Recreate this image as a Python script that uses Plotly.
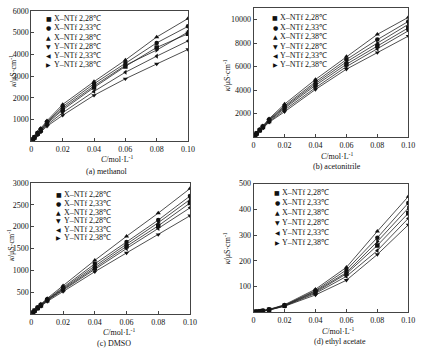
import plotly.graph_objects as go

conc = [0.001, 0.002, 0.004, 0.006, 0.01, 0.02, 0.04, 0.06, 0.08, 0.10]
series_names = ["X–NTf 2,28℃", "X–NTf 2,33℃", "X–NTf 2,38℃",
                "Y–NTf 2,28℃", "Y–NTf 2,33℃", "Y–NTf 2,38℃"]
symbols = ["square", "circle", "triangle-up", "triangle-down", "triangle-left", "triangle-right"]
glyphs = ["■", "●", "▲", "▼", "◀", "▶"]

# (a) methanol
methanol = {
    "X–NTf 2,28℃": [95, 180, 350, 500, 820, 1450, 2480, 3450, 4320, 4950],
    "X–NTf 2,33℃": [105, 200, 390, 560, 900, 1600, 2650, 3600, 4530, 5290],
    "X–NTf 2,38℃": [115, 220, 420, 600, 950, 1700, 2750, 3740, 4800, 5650],
    "Y–NTf 2,28℃": [80, 155, 300, 430, 700, 1200, 2120, 2880, 3560, 4230],
    "Y–NTf 2,33℃": [90, 170, 330, 470, 760, 1320, 2300, 3180, 3920, 4620],
    "Y–NTf 2,38℃": [100, 190, 370, 530, 860, 1520, 2550, 3500, 4200, 5030],
}
# (b) acetonitrile
acetonitrile = {
    "X–NTf 2,28℃": [155, 300, 580, 840, 1370, 2450, 4400, 6200, 7750, 9300],
    "X–NTf 2,33℃": [165, 320, 620, 900, 1480, 2650, 4700, 6600, 8300, 9850],
    "X–NTf 2,38℃": [175, 340, 650, 950, 1550, 2800, 4900, 6850, 8750, 10200],
    "Y–NTf 2,28℃": [140, 270, 520, 760, 1250, 2150, 4050, 5780, 7200, 8600],
    "Y–NTf 2,33℃": [148, 285, 550, 800, 1300, 2300, 4200, 6000, 7500, 9050],
    "Y–NTf 2,38℃": [160, 310, 600, 870, 1420, 2550, 4550, 6400, 8000, 9600],
}
# (c) DMSO
dmso = {
    "X–NTf 2,28℃": [39, 75, 140, 200, 320, 570, 1060, 1550, 2020, 2540],
    "X–NTf 2,33℃": [42, 80, 150, 215, 340, 610, 1150, 1650, 2150, 2700],
    "X–NTf 2,38℃": [45, 85, 160, 230, 360, 650, 1230, 1780, 2310, 2870],
    "Y–NTf 2,28℃": [35, 68, 125, 180, 290, 520, 970, 1400, 1820, 2250],
    "Y–NTf 2,33℃": [37, 72, 135, 190, 310, 550, 1020, 1500, 1960, 2430],
    "Y–NTf 2,38℃": [40, 77, 145, 205, 330, 590, 1100, 1600, 2090, 2620],
}
# (d) ethyl acetate
ethyl_acetate = {
    "X–NTf 2,28℃": [2, 3, 4, 6, 10, 26, 78, 150, 260, 385],
    "X–NTf 2,33℃": [2, 3, 5, 7, 11, 28, 85, 165, 290, 425],
    "X–NTf 2,38℃": [2, 3, 5, 7, 12, 30, 90, 175, 315, 450],
    "Y–NTf 2,28℃": [1, 2, 4, 5, 9, 24, 68, 125, 225, 340],
    "Y–NTf 2,33℃": [1, 2, 4, 6, 10, 25, 74, 140, 240, 365],
    "Y–NTf 2,38℃": [2, 3, 4, 6, 11, 27, 82, 155, 275, 405],
}

x_ticks = [0, 0.02, 0.04, 0.06, 0.08, 0.10]
x_ticktext = ["0", "0.02", "0.04", "0.06", "0.08", "0.10"]
y_ticks_a = [1000, 2000, 3000, 4000, 5000, 6000]
y_ticks_b = [2000, 4000, 6000, 8000, 10000]
y_ticks_c = [500, 1000, 1500, 2000, 2500, 3000]
y_ticks_d = [100, 200, 300, 400, 500]

W, H = 429, 351
FONT = "Liberation Serif, Times New Roman, serif"
GLYPH_FONT = "DejaVu Sans"

panels = [
    dict(data=methanol, yt=y_ticks_a, yr=[0, 6000], xd=(30, 190), yd=(7, 139),
         cap="(a) methanol", capx=107, capy=169, xtx=117, xty=157, ytx=11, yty=68,
         legx=48, legy=15, legdy=9.2),
    dict(data=acetonitrile, yt=y_ticks_b, yr=[0, 11000], xd=(257, 415), yd=(4, 134.5),
         cap="(b) acetonitrile", capx=342, capy=164, xtx=342, xty=154, ytx=230, yty=72,
         legx=279, legy=14, legdy=9.5),
    dict(data=dmso, yt=y_ticks_c, yr=[0, 3000], xd=(30, 192), yd=(181, 313.7),
         cap="(c) DMSO", capx=114, capy=343, xtx=120, xty=332, ytx=9, yty=244,
         legx=58, legy=193, legdy=8.7),
    dict(data=ethyl_acetate, yt=y_ticks_d, yr=[0, 500], xd=(257, 415), yd=(181.7, 312),
         cap="(d) ethyl acetate", capx=345, capy=341, xtx=343, xty=331, ytx=230, yty=247,
         legx=281, legy=191, legdy=10),
]

fig = go.Figure()
annotations = []


def add_text(text, x, y, size=8, family=FONT, xanchor="center", angle=0):
    annotations.append(dict(text=text, x=x / W, y=1 - y / H, xref="paper", yref="paper",
                            showarrow=False, xanchor=xanchor, yanchor="middle",
                            textangle=angle, font=dict(family=family, size=size, color="#111")))


for i, p in enumerate(panels, start=1):
    xa = "x" if i == 1 else f"x{i}"
    ya = "y" if i == 1 else f"y{i}"
    for name, sym in zip(series_names, symbols):
        fig.add_trace(go.Scatter(
            x=conc, y=p["data"][name], mode="lines+markers", name=name,
            xaxis=xa, yaxis=ya, showlegend=False,
            line=dict(color="#222", width=0.8),
            marker=dict(symbol=sym, size=4.5, color="#111"),
        ))
    axis_common = dict(showline=True, mirror=True, linecolor="#444", linewidth=1,
                       ticks="inside", ticklen=3, tickcolor="#444", showgrid=False,
                       zeroline=False, tickfont=dict(family=FONT, size=8, color="#111"))
    fig.update_layout(**{
        ("xaxis" if i == 1 else f"xaxis{i}"): dict(
            domain=[p["xd"][0] / W, p["xd"][1] / W], range=[0, 0.10],
            tickvals=x_ticks, ticktext=x_ticktext, anchor=ya, **axis_common),
        ("yaxis" if i == 1 else f"yaxis{i}"): dict(
            domain=[1 - p["yd"][1] / H, 1 - p["yd"][0] / H], range=p["yr"],
            tickvals=p["yt"], tickformat="d", anchor=xa, **axis_common),
    })
    add_text("<i>C</i>/mol·L<sup>-1</sup>", p["xtx"], p["xty"])
    add_text(p["cap"], p["capx"], p["capy"])
    add_text("<i>κ</i>/μS·cm<sup>-1</sup>", p["ytx"], p["yty"], angle=-90)
    for k, (name, g) in enumerate(zip(series_names, glyphs)):
        yy = p["legy"] + k * p["legdy"]
        add_text(g, p["legx"], yy, size=6, family=GLYPH_FONT)
        add_text(name, p["legx"] + 3, yy, xanchor="left")

fig.update_layout(width=W, height=H, margin=dict(l=0, r=0, t=0, b=0),
                  paper_bgcolor="white", plot_bgcolor="white",
                  annotations=annotations, showlegend=False)
fig.write_html("out.html")
